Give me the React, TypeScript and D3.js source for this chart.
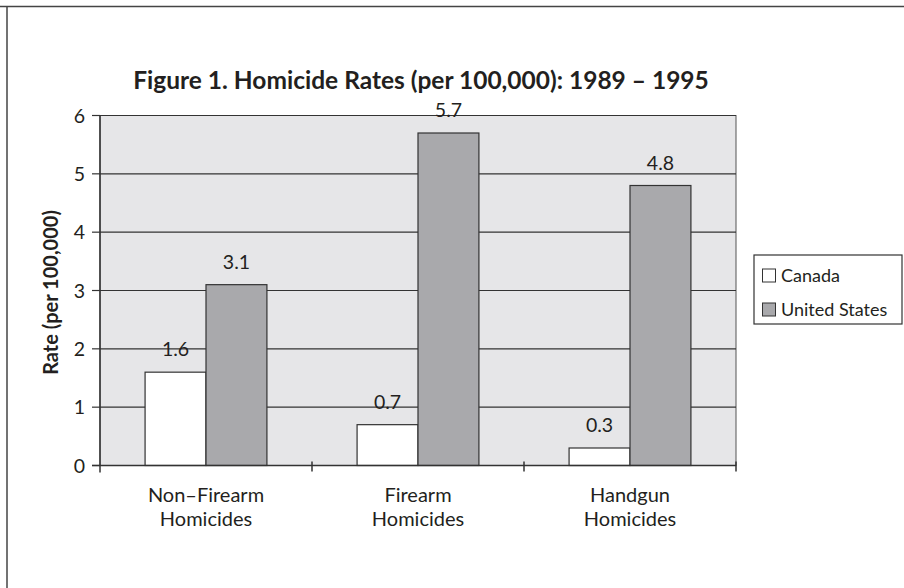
import React from "react";
import * as d3 from "d3";

const categories = ["Non-Firearm Homicides", "Firearm Homicides", "Handgun Homicides"];
const categoryLines = [
  ["Non–Firearm", "Homicides"],
  ["Firearm", "Homicides"],
  ["Handgun", "Homicides"],
];
const seriesNames = ["Canada", "United States"];
const canada = [1.6, 0.7, 0.3];
const unitedStates = [3.1, 5.7, 4.8];
const yTicks = [0, 1, 2, 3, 4, 5, 6];
const title = "Figure 1. Homicide Rates (per 100,000): 1989 – 1995";
const yLabel = "Rate (per 100,000)";

const W = 904;
const H = 588;
const plot = { left: 100, right: 736, top: 115.5, bottom: 465.5 };
const FONT = "Lato, 'Open Sans', sans-serif";
const fills = ["#ffffff", "#a9a9ac"];
const ink = "#231f20";

export default function App() {
  const x = d3.scaleBand<string>().domain(categories).range([plot.left, plot.right]);
  const inner = d3
    .scaleBand<string>()
    .domain(seriesNames)
    .range([0, x.bandwidth()])
    .paddingOuter(0.74);
  const y = d3.scaleLinear().domain([0, 6]).range([plot.bottom, plot.top]);
  const values = [canada, unitedStates];

  return (
    <svg
      width={W}
      height={H}
      style={{ position: "absolute", left: 0, top: 0, background: "#fff" }}
      fontFamily={FONT}
    >
      {/* frame */}
      <line x1={0} x2={W} y1={6.5} y2={6.5} stroke="#444" strokeWidth={1.5} />
      <line x1={7} x2={7} y1={6} y2={H} stroke="#444" strokeWidth={1.5} />

      <text x={421} y={89} textAnchor="middle" fontSize={24.5} fontWeight="bold" fill={ink}>
        {title}
      </text>

      {/* plot background */}
      <rect
        x={plot.left}
        y={plot.top}
        width={plot.right - plot.left}
        height={plot.bottom - plot.top}
        fill="#e6e6e8"
        stroke="#555"
        strokeWidth={1}
      />

      {/* gridlines and y ticks */}
      {yTicks.map((t) => (
        <g key={t}>
          <line x1={plot.left} x2={plot.right} y1={y(t)} y2={y(t)} stroke="#333" strokeWidth={1.2} />
          <line x1={92} x2={plot.left} y1={y(t)} y2={y(t)} stroke="#333" strokeWidth={1.2} />
          <text x={85} y={y(t) + 7} textAnchor="end" fontSize={19.5} fill={ink}>
            {t}
          </text>
        </g>
      ))}

      {/* bars */}
      {categories.map((c, i) =>
        seriesNames.map((s, k) => {
          const bx = (x(c) as number) + (inner(s) as number);
          const v = values[k][i];
          return (
            <g key={c + s}>
              <rect
                x={bx}
                y={y(v)}
                width={inner.bandwidth()}
                height={y(0) - y(v)}
                fill={fills[k]}
                stroke="#333"
                strokeWidth={1.2}
              />
              <text
                x={bx + inner.bandwidth() / 2}
                y={y(v) - 16}
                textAnchor="middle"
                fontSize={19.5}
                fill={ink}
              >
                {v.toFixed(1)}
              </text>
            </g>
          );
        })
      )}

      {/* axes */}
      <line x1={plot.left} x2={plot.left} y1={plot.top} y2={plot.bottom + 7} stroke="#333" strokeWidth={1.5} />
      <line x1={92} x2={plot.right} y1={plot.bottom} y2={plot.bottom} stroke="#333" strokeWidth={1.5} />
      {categories.map((c) => (
        <line
          key={"t" + c}
          x1={(x(c) as number) + x.bandwidth()}
          x2={(x(c) as number) + x.bandwidth()}
          y1={plot.bottom - 4}
          y2={plot.bottom + 6}
          stroke="#333"
          strokeWidth={1.5}
        />
      ))}

      {/* category labels */}
      {categories.map((c, i) => (
        <text
          key={"l" + c}
          x={(x(c) as number) + x.bandwidth() / 2}
          textAnchor="middle"
          fontSize={20}
          fill={ink}
        >
          {categoryLines[i].map((ln, j) => (
            <tspan key={j} x={(x(c) as number) + x.bandwidth() / 2} y={501.5 + j * 24}>
              {ln}
            </tspan>
          ))}
        </text>
      ))}

      <text
        transform={`translate(58, ${(plot.top + plot.bottom) / 2 + 2}) rotate(-90)`}
        textAnchor="middle"
        fontSize={20}
        fontWeight="bold"
        fill={ink}
      >
        {yLabel}
      </text>

      {/* legend */}
      <rect x={754} y={255} width={148} height={69} fill="#fff" stroke="#333" strokeWidth={1.2} />
      {seriesNames.map((s, k) => (
        <g key={s}>
          <rect x={762.5} y={269 + k * 34} width={13} height={13} fill={fills[k]} stroke="#333" strokeWidth={1} />
          <text x={781} y={282 + k * 34} fontSize={18} fill={ink}>
            {s}
          </text>
        </g>
      ))}
    </svg>
  );
}
